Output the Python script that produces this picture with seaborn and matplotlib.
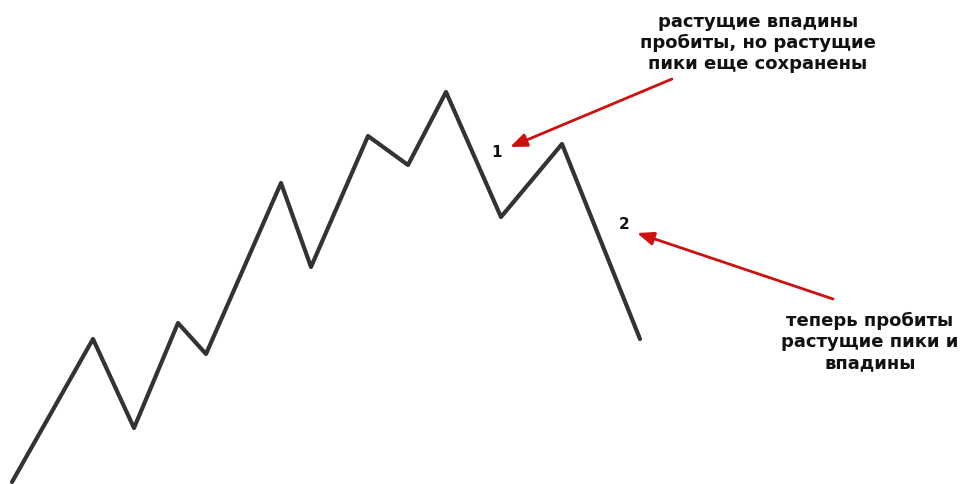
import matplotlib.pyplot as plt
import seaborn as sns
import pandas as pd

# zigzag vertices (pixel-like units, y grows downward)
xs = [12, 93, 134, 178, 206, 281, 311, 368, 408, 446, 501, 562, 640]
ys = [483, 340, 429, 324, 355, 184, 268, 137, 166, 93, 218, 145, 340]

labels = ['1', '2']
label_xy = [(497, 153), (624, 225)]

notes = ['растущие впадины\nпробиты, но растущие\nпики еще сохранены',
         'теперь пробиты\nрастущие пики и\nвпадины']
note_xy = [(758, 43), (870, 342)]
arrow_from = [(672, 80), (833, 300)]
arrow_to = [(510, 148), (637, 234)]

sns.set_style('white')
plt.rcParams['font.family'] = ['DejaVu Sans']

fig = plt.figure(figsize=(9.67, 4.85), dpi=100)
ax = fig.add_axes([0, 0, 1, 1])
df = pd.DataFrame({'x': xs, 'y': ys})
sns.lineplot(data=df, x='x', y='y', sort=False, color='#333333', linewidth=3, ax=ax)

for lab, (x, y) in zip(labels, label_xy):
    ax.text(x, y, lab, ha='center', va='center', fontsize=11, fontweight='bold', color='#111111')

for txt, (x, y) in zip(notes, note_xy):
    ax.text(x, y, txt, ha='center', va='center', fontsize=13, fontweight='bold',
            color='#111111', linespacing=1.2)

for (x0, y0), (x1, y1) in zip(arrow_from, arrow_to):
    ax.annotate('', xy=(x1, y1), xytext=(x0, y0),
                arrowprops=dict(arrowstyle='-|>,head_length=1.0,head_width=0.4',
                                color='#cc1111', lw=2, shrinkA=0, shrinkB=0))

ax.set_xlim(0, 967)
ax.set_ylim(485, 0)
ax.axis('off')
fig.savefig('out.png', dpi=100)
